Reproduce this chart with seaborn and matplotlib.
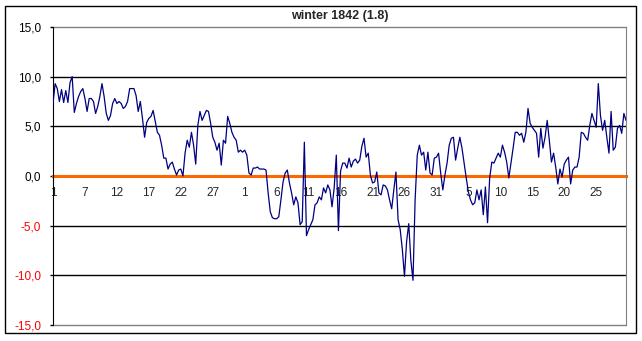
import numpy as np
import pandas as pd
import seaborn as sns
import matplotlib.pyplot as plt
from matplotlib.patches import Rectangle

# three readings per day, 1 Dec 1841 .. end of Feb 1842
temps = [
    7.3, 9.3, 8.8, 7.5, 8.7, 7.4, 8.6, 7.4, 9.4, 10.0,
    6.4, 7.3, 8.0, 8.5, 8.8, 7.8, 6.5, 7.8, 7.8, 7.5,
    6.3, 7.0, 8.0, 9.3, 8.0, 6.3, 5.6, 6.1, 7.3, 7.8,
    7.3, 7.5, 7.3, 6.8, 7.0, 7.5, 8.8, 8.8, 8.8, 8.1,
    6.5, 7.5, 5.8, 3.9, 5.4,
    5.8, 6.0, 6.6, 5.5, 4.4, 4.1, 3.1, 1.8, 1.8, 0.7,
    1.2, 1.4, 0.7, 0.1, 0.6, 0.7, 0.0, 2.3, 3.6, 2.9,
    4.4, 3.1, 1.2, 5.1, 6.5, 5.6, 6.1, 6.6, 6.5, 5.3,
    3.9, 3.4, 2.6, 3.3, 1.1, 3.6, 3.3, 6.0, 5.3, 4.4,
    3.9, 3.6, 2.4, 2.6, 2.4,
    2.6, 2.1, 0.3, 0.1, 0.8, 0.8, 0.9, 0.7, 0.7, 0.7,
    0.6, -1.7, -3.6, -4.2, -4.3, -4.3, -4.1, -2.4, -0.6, 0.3,
    0.6, -0.7, -1.7, -2.9, -2.1, -2.7, -4.9, -4.6, 3.4, -6.0,
    -5.4, -4.9, -4.4, -2.9, -2.7, -2.1, -2.4, -1.2, -1.7, -0.9,
    -1.4, -3.1, -1.2, 2.1, -5.5, 0.5,
    1.3, 1.3, 0.8, 1.8, 0.9, 1.5, 1.7, 1.3, 1.6, 3.0,
    3.8, 1.9, 2.3, 0.1, -0.7, -0.6, 0.4, -1.7, -1.9, -0.9,
    -1.0, -1.4, -2.4, -3.3, -1.4, 0.4, -4.4, -5.4, -7.4, -10.1,
    -6.6, -4.8, -8.5, -10.5, -2.4, 2.1, 3.1, 2.1, 2.4, 0.6,
    2.4, 0.3, 0.1, 1.8,
    1.9, 2.3, 0.3, -1.4, 0.1, 1.3, 3.1, 3.8, 3.9, 1.6,
    2.8, 3.9, 2.8, 1.3, -0.2, -1.6, -2.4, -2.9, -2.7, -1.4,
    -2.4, -1.4, -3.9, -1.1, -4.7, -0.2, 1.4, 1.3, 1.8, 2.3,
    1.9, 3.1, 2.4, 1.4, -0.2, 1.3, 2.8, 4.4, 4.4, 4.1,
    4.3, 3.4, 4.4, 6.8, 5.3, 4.9,
    4.6, 4.3, 1.9, 4.8, 2.8, 3.9, 5.6, 3.6, 1.4, 2.3,
    0.9, -0.8, 0.7, -0.1, 1.2, 1.6, 1.9, -0.8, 0.6, 0.9,
    0.9, 1.9, 4.4, 4.3, 3.9, 3.6, 5.1, 6.3, 5.6, 4.9,
    9.3, 6.1, 4.6, 5.6, 3.9, 2.3, 6.5, 2.6, 2.9, 4.8,
    5.1, 4.3, 6.3, 5.6,
]
day_labels = ["1", "7", "12", "17", "22", "27", "1", "6", "11", "16",
              "21", "26", "31", "5", "10", "15", "20", "25"]
label_step = 15   # one label every 5 days (3 readings a day)
y_ticks = [-15, -10, -5, 0, 5, 10, 15]

df = pd.DataFrame({"n": np.arange(len(temps)), "temp": temps})

sns.set_style("white")
plt.rcParams["font.family"] = ["Liberation Sans", "DejaVu Sans"]

fig = plt.figure(figsize=(6.42, 3.41), dpi=100)
ax = fig.add_axes([53 / 642, 16 / 341, 573 / 642, 298 / 341])

# grid lines
for g in [10, 5, -5, -10]:
    ax.axhline(g, color="black", lw=1, zorder=1)
ax.axhline(15, color="gray", lw=1, zorder=1, clip_on=False)
ax.axhline(-15, color="gray", lw=1, zorder=1, clip_on=False)

sns.lineplot(data=df, x="n", y="temp", color="#000080", lw=0.9, ax=ax, zorder=3)

ax.set_xlim(0, len(temps) - 1)
ax.set_ylim(-15, 15)

ax.spines["top"].set_visible(False)
ax.spines["right"].set_color("gray")
ax.spines["left"].set_color("black")
ax.spines["bottom"].set_position(("data", 0))
ax.spines["bottom"].set_color("#FF6600")
ax.spines["bottom"].set_linewidth(2.2)
ax.spines["bottom"].set_zorder(2)

ax.set_xticks(np.arange(len(day_labels)) * label_step)
ax.set_xticklabels(day_labels)
ax.tick_params(axis="x", length=0, pad=8, labelsize=8.5)

ax.set_yticks(y_ticks)
ax.set_yticklabels([f"{v:.1f}".replace(".", ",") for v in y_ticks])
ax.tick_params(axis="y", left=True, length=2.5, width=1, color="black",
               labelsize=8.5, pad=6)
for lab, v in zip(ax.get_yticklabels(), y_ticks):
    lab.set_color("red" if v < 0 else "black")

ax.set_xlabel("")
ax.set_ylabel("")
ax.set_title("winter 1842 (1.8)", fontsize=9, fontweight="bold", pad=6)

# chart border
fig.patches.append(Rectangle((5 / 642, 8 / 341), 631 / 642, 327 / 341,
                             transform=fig.transFigure, fill=False,
                             edgecolor="black", lw=1))

fig.savefig("out.png", dpi=100)
